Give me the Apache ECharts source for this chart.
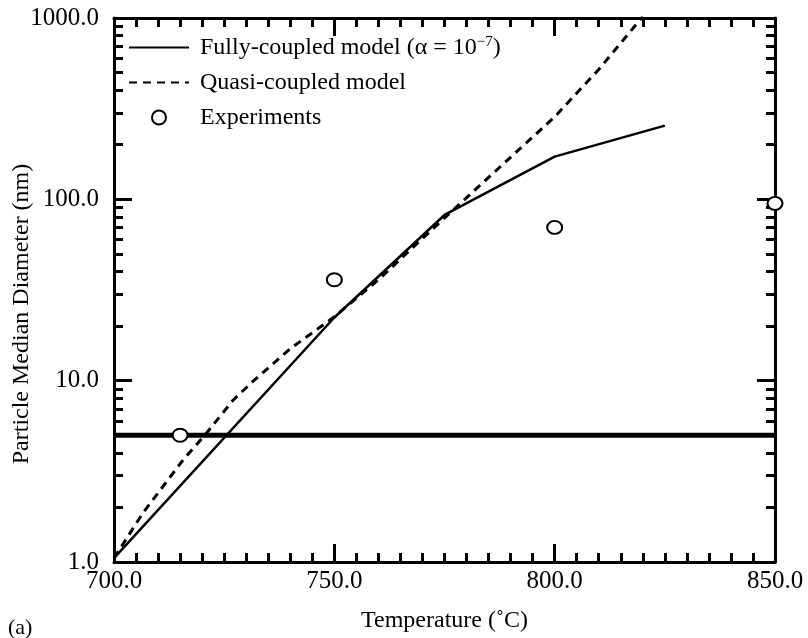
<!DOCTYPE html>
<html><head><meta charset="utf-8">
<script src="https://cdn.jsdelivr.net/npm/echarts@6/dist/echarts.min.js"></script>
<style>html,body{margin:0;padding:0;background:#fff}#c{width:808px;height:638px}</style>
</head><body><div id="c"></div>
<script>
// ---- data ----
const fullyTemp = [700, 750, 775, 800, 825];
const fullyDiam = [1.05, 22.3, 82, 172, 255];
const quasiTemp = [700, 706.6, 715.7, 720.6, 727, 731.5, 740, 750, 760, 775, 800, 810, 820];
const quasiDiam = [1.05, 1.87, 3.66, 5.0, 7.8, 9.9, 15, 22.5, 36, 79, 285, 520, 1020];
const expTemp = [715, 750, 800, 850];
const expDiam = [5.0, 36, 70, 95];
const pbmsLimit = 5;
const pbmsRange = [700, 850];
const yMinorTicks = [2,3,4,5,6,7,8,9,20,30,40,50,60,70,80,90,200,300,400,500,600,700,800,900];

const F = "'Liberation Serif','Times New Roman',serif";
const zip = (a, b) => a.map((v, i) => [v, b[i]]);

const chart = echarts.init(document.getElementById('c'), null, {renderer: 'canvas'});

const tickMajor = {show: true, inside: true, length: 18, lineStyle: {color: '#000', width: 3}};
const tickMinor = {show: true, inside: true, length: 9, lineStyle: {color: '#000', width: 3}};
const axLine = {show: true, lineStyle: {color: '#000', width: 3}};

function yAx(pos, major, labels, extra) {
  return Object.assign({
    type: 'log', logBase: 10, min: 1, max: 1000, position: pos,
    axisLine: major ? axLine : {show: false},
    axisTick: major ? tickMajor : Object.assign({}, tickMinor, {customValues: yMinorTicks}),
    axisLabel: labels ? {show: true, formatter: v => Number(v).toFixed(1), fontSize: 25, fontFamily: F, color: '#000', margin: 15} : {show: false},
    splitLine: {show: false}
  }, extra || {});
}
function xAx(pos, labels, extra) {
  return Object.assign({
    type: 'value', min: 700, max: 850, interval: 50, position: pos,
    axisLine: axLine,
    axisTick: tickMajor,
    minorTick: {show: true, splitNumber: 10, length: 9, lineStyle: {color: '#000', width: 3}},
    axisLabel: labels ? {show: true, formatter: v => Number(v).toFixed(1), fontSize: 25, fontFamily: F, color: '#000', margin: 7} : {show: false},
    splitLine: {show: false}, minorSplitLine: {show: false}
  }, extra || {});
}

chart.setOption({
  animation: false,
  backgroundColor: '#fff',
  title: {text: '(a)', left: 3, top: 612, textStyle: {fontFamily: F, fontSize: 22, fontWeight: 'normal', color: '#000'}},
  grid: {left: 114, right: 33, top: 18, bottom: 76, containLabel: false, outerBoundsMode: 'none'},
  legend: {
    orient: 'vertical', left: 123, top: 30, itemWidth: 60, itemHeight: 14, itemGap: 11,
    data: [
      {name: 'Fully-coupled model', itemStyle: {opacity: 0}},
      {name: 'Quasi-coupled model', itemStyle: {opacity: 0}},
      {name: 'Experiments'}
    ],
    textStyle: {fontFamily: F, fontSize: 24, color: '#000', padding: [0, 0, 0, 6],
      rich: {t: {fontFamily: F, fontSize: 24, color: '#000'}, s: {fontFamily: F, fontSize: 15, color: '#000', verticalAlign: 'top', padding: [0, 0, 10, 0]}}},
    formatter: n => n === 'Fully-coupled model' ? '{t|Fully-coupled model (α = 10}{s|−7}{t|)}' : n
  },
  xAxis: [
    xAx('bottom', true, {name: 'Temperature (˚C)', nameLocation: 'middle', nameGap: 47, nameMoveOverlap: false,
      nameTextStyle: {fontFamily: F, fontSize: 24, color: '#000'}}),
    xAx('top', false)
  ],
  yAxis: [
    yAx('left', true, true, {name: 'Particle Median Diameter (nm)', nameLocation: 'middle', nameGap: 80, nameMoveOverlap: false,
      nameTextStyle: {fontFamily: F, fontSize: 24, color: '#000', padding: [0, 48, 0, 0]}}),
    yAx('left', false, false),
    yAx('right', true, false),
    yAx('right', false, false)
  ],
  series: [
    {name: 'Fully-coupled model', type: 'line', symbol: 'none', data: zip(fullyTemp, fullyDiam),
     lineStyle: {color: '#000', width: 2.5}, itemStyle: {color: '#000'}, z: 3},
    {name: 'Quasi-coupled model', type: 'line', symbol: 'none', data: zip(quasiTemp, quasiDiam),
     lineStyle: {color: '#000', width: 3, type: [8, 6]}, itemStyle: {color: '#000'}, z: 3},
    {name: 'Experiments', type: 'scatter', symbol: 'circle', symbolSize: [15, 13], data: zip(expTemp, expDiam),
     itemStyle: {color: '#fff', borderColor: '#000', borderWidth: 2, opacity: 1}, clip: false, z: 4},
    {name: 'PBMS', type: 'line', symbol: 'none', silent: true,
     data: [[pbmsRange[0], pbmsLimit], {value: [pbmsRange[1], pbmsLimit],
       label: {show: true, formatter: 'PBMS detection limit', position: 'left', offset: [-52, -18], fontFamily: F, fontSize: 24, color: '#000'}}],
     lineStyle: {color: '#000', width: 5}, z: 2}
  ]
});
</script></body></html>
